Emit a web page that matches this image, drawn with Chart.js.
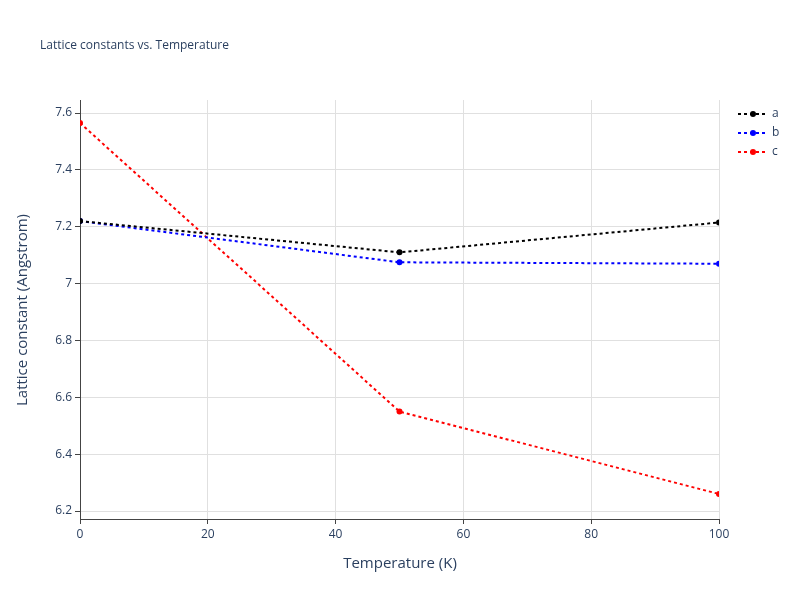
<!DOCTYPE html>
<html>
<head>
<script src="https://cdn.jsdelivr.net/npm/chart.js@4"></script>
<style>body{margin:0;background:#fff}#wrap{width:800px;height:600px}</style>
</head>
<body>
<div id="wrap"><canvas id="c" width="800" height="600"></canvas></div>
<script>
const temps = [0, 50, 100];
const aVals = [7.22, 7.11, 7.215];
const bVals = [7.22, 7.075, 7.07];
const cVals = [7.565, 6.55, 6.26];
const seriesNames = ["a", "b", "c"];
const colors = ["#000000", "#0000ff", "#ff0000"];
const xTicks = [0, 20, 40, 60, 80, 100];

const font = "'Open Sans', sans-serif";
const textCol = "#2a3f5f";

function ds(name, vals, col) {
  return {
    label: name,
    data: temps.map((t, i) => ({ x: t, y: vals[i] })),
    borderColor: col, backgroundColor: col,
    borderWidth: 2, borderDash: [3, 3],
    pointRadius: 3, pointHoverRadius: 3, pointBorderWidth: 0,
    tension: 0
  };
}

const overlay = {
  id: "overlay",
  afterDraw(chart) {
    const ctx = chart.ctx;
    ctx.save();
    ctx.fillStyle = textCol;
    ctx.font = "12px " + font;
    ctx.textBaseline = "middle";
    ctx.fillText("Lattice constants vs. Temperature", 40, 46);
    // legend
    chart.data.datasets.forEach((d, i) => {
      const y = 114 + i * 19;
      ctx.strokeStyle = d.borderColor;
      ctx.lineWidth = 2;
      ctx.setLineDash([3, 3]);
      ctx.beginPath(); ctx.moveTo(738, y); ctx.lineTo(768, y); ctx.stroke();
      ctx.setLineDash([]);
      ctx.fillStyle = d.borderColor;
      ctx.beginPath(); ctx.arc(753, y, 3, 0, Math.PI * 2); ctx.fill();
      ctx.fillStyle = textCol;
      ctx.fillText(d.label, 772, y);
    });
    // axis titles
    ctx.font = "15px " + font;
    ctx.textAlign = "center";
    ctx.fillText("Temperature (K)", 400, 564);
    ctx.translate(23, 310);
    ctx.rotate(-Math.PI / 2);
    ctx.fillText("Lattice constant (Angstrom)", 0, 0);
    ctx.restore();
  }
};

new Chart(document.getElementById("c"), {
  type: "line",
  data: { datasets: [ds(seriesNames[0], aVals, colors[0]), ds(seriesNames[1], bVals, colors[1]), ds(seriesNames[2], cVals, colors[2])] },
  options: {
    responsive: false, animation: false,
    layout: { padding: { top: 100, right: 81, left: 0, bottom: 0 } },
    plugins: { legend: { display: false }, tooltip: { enabled: false } },
    scales: {
      x: {
        type: "linear", min: 0, max: 100,
        afterFit(s) { s.height = 81; },
        afterBuildTicks(s) { s.ticks = xTicks.map(v => ({ value: v })); },
        grid: { color: "#e0e0e0", drawTicks: true, tickLength: 5, tickColor: "#444" },
        border: { display: true, color: "#444", width: 1 },
        ticks: { color: textCol, font: { family: font, size: 12 }, padding: 3, maxRotation: 0 }
      },
      y: {
        min: 6.172, max: 7.646,
        afterFit(s) { s.width = 80; },
        afterBuildTicks(s) { s.ticks = [6.2, 6.4, 6.6, 6.8, 7, 7.2, 7.4, 7.6].map(v => ({ value: v })); },
        grid: { color: "#e0e0e0", tickLength: 5, tickColor: "#444" },
        border: { display: true, color: "#444", width: 1 },
        ticks: { color: textCol, font: { family: font, size: 12 }, padding: 3,
          callback: v => String(Math.round(v * 10) / 10) }
      }
    }
  },
  plugins: [overlay]
});
</script>
</body>
</html>
